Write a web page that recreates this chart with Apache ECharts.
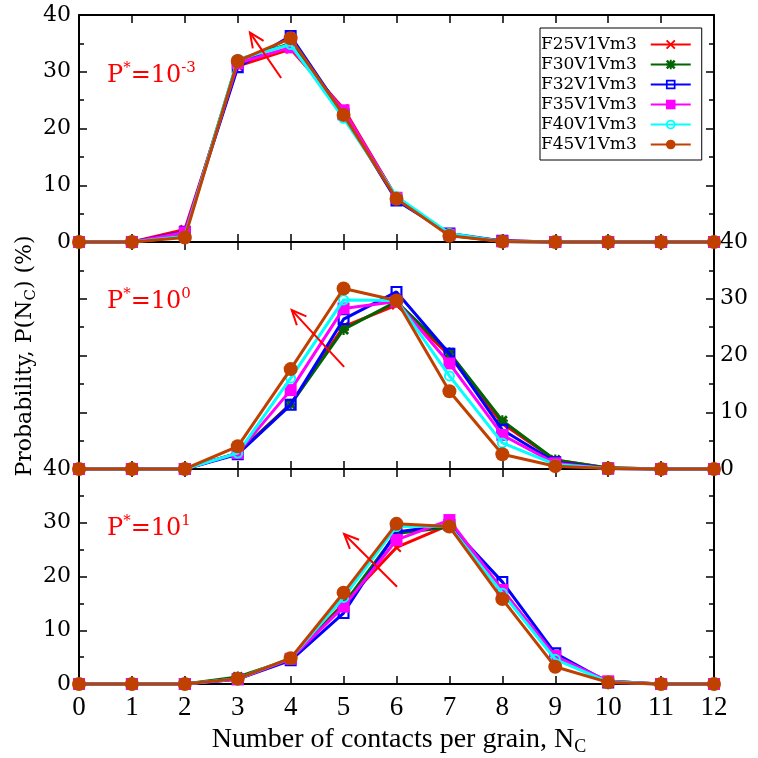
<!DOCTYPE html>
<html><head><meta charset="utf-8">
<script src="https://cdn.jsdelivr.net/npm/echarts@6/dist/echarts.min.js"></script>
<style>html,body{margin:0;padding:0;background:#fff}#c{width:758px;height:758px}</style>
</head><body><div id="c"></div>
<script>
// ---- data ----
const contacts = [0,1,2,3,4,5,6,7,8,9,10,11,12];
const xTicks = [0,1,2,3,4,5,6,7,8,9,10,11,12];
const yTicks = [0,10,20,30,40];
const seriesNames = ['F25V1Vm3','F30V1Vm3','F32V1Vm3','F35V1Vm3','F40V1Vm3','F45V1Vm3'];
const panelExponents = ['-3','0','1'];

// P* = 10^-3
const top_F25 = [0,0,2.2,31.0,34.0,23.5,7.8,1.3,0.2,0,0,0,0];
const top_F30 = [0,0,1.5,32.0,35.0,23.0,7.8,1.2,0.1,0,0,0,0];
const top_F32 = [0,0,1.8,30.8,36.3,22.5,7.3,1.5,0.2,0,0,0,0];
const top_F35 = [0,0,1.7,31.5,34.3,23.2,7.8,1.3,0.1,0,0,0,0];
const top_F40 = [0,0,1.0,32.2,34.8,21.8,8.0,1.5,0.1,0,0,0,0];
const top_F45 = [0,0,0.8,31.9,35.9,22.4,7.6,1.1,0.1,0,0,0,0];
// P* = 10^0
const mid_F25 = [0,0,0,2.8,11.5,25.1,28.9,20.0,8.0,1.6,0.2,0,0];
const mid_F30 = [0,0,0,2.8,11.4,24.6,29.5,20.5,8.5,1.6,0.2,0,0];
const mid_F32 = [0,0,0,2.6,11.3,26.4,31.2,20.3,6.9,1.2,0.1,0,0];
const mid_F35 = [0,0,0,2.8,13.9,28.3,29.5,18.6,6.0,1.0,0.1,0,0];
const mid_F40 = [0,0,0,2.8,16.0,29.8,29.7,16.4,4.6,0.8,0.1,0,0];
const mid_F45 = [0,0,0,4.0,17.6,31.8,29.7,13.7,2.6,0.5,0.1,0,0];
// P* = 10^1
const bot_F25 = [0,0,0,1.0,4.6,15.0,25.4,29.6,17.5,5.0,0.5,0,0];
const bot_F30 = [0,0,0,1.3,4.6,14.8,28.0,29.2,17.5,4.8,0.5,0,0];
const bot_F32 = [0,0,0,0.9,4.4,13.2,28.3,29.6,19.0,5.7,0.3,0,0];
const bot_F35 = [0,0,0,0.9,4.7,14.4,26.8,30.5,17.5,5.2,0.5,0,0];
const bot_F40 = [0,0,0,1.0,4.8,16.1,29.3,29.4,16.9,4.6,0.4,0,0];
const bot_F45 = [0,0,0,1.0,4.8,17.0,29.8,29.3,15.8,3.2,0.3,0,0];

// annotation arrows (data coordinates: tail -> head)
const arrowTail = [[3.82,28.9],[5.01,18.0],[6.01,18.1]];
const arrowHead = [[3.23,36.9],[4.02,28.0],[5.01,27.9]];

// ---- styling ----
const panels = [
  [top_F25,top_F30,top_F32,top_F35,top_F40,top_F45],
  [mid_F25,mid_F30,mid_F32,mid_F35,mid_F40,mid_F45],
  [bot_F25,bot_F30,bot_F32,bot_F35,bot_F40,bot_F45]
];
const colors = ['#ff0000','#006400','#0000ff','#ff00ff','#00ffff','#c04000'];
const symX = 'path://M0,1.4L1.4,0L5,3.6L8.6,0L10,1.4L6.4,5L10,8.6L8.6,10L5,6.4L1.4,10L0,8.6L3.6,5Z';
const symStar = 'path://M0,1.8L1.8,0L5,3.2L8.2,0L10,1.8L6.8,5L10,8.2L8.2,10L5,6.8L1.8,10L0,8.2L3.2,5Z M4,0H6V4H10V6H6V10H4V6H0V4H4Z';
const symOpenSq = 'path://M0,0H10V10H0Z M1.8,1.8V8.2H8.2V1.8Z';
const symOpenCirc = 'path://M5,0A5,5,0,1,1,5,10A5,5,0,1,1,5,0Z M5,1.8A3.2,3.2,0,1,0,5,8.2A3.2,3.2,0,1,0,5,1.8Z';
const symbols = [symX, symStar, symOpenSq, 'rect', symOpenCirc, 'circle'];
const symSizes = [10, 11, 12, 12, 11, 14];

const grids = [
  {left:79, right:44, top:15, height:227},
  {left:79, right:44, top:242, height:227},
  {left:79, right:44, top:469, height:215}
];

function xAx(g, pos, showLabel){
  return {type:'value', gridIndex:g, position:pos, min:0, max:12, interval:1,
    axisLine:{show:true, onZero:false, lineStyle:{color:'#000', width:2}},
    axisTick:{show:true, inside:true, length:8, lineStyle:{color:'#000', width:1.5}},
    axisLabel:{show:showLabel, margin:10, color:'#000', fontFamily:'Liberation Serif', fontSize:27,
      formatter: v => xTicks.includes(v) ? String(v) : ''},
    splitLine:{show:false}};
}
function yAx(g, pos, showLabel){
  return {type:'value', gridIndex:g, position:pos, min:0, max:40, interval:10,
    axisLine:{show:true, onZero:false, lineStyle:{color:'#000', width:2}},
    axisTick:{show:true, inside:true, length:8, lineStyle:{color:'#000', width:1.5}},
    minorTick:{show:true, splitNumber:2, length:5, lineStyle:{color:'#000', width:1.5}},
    axisLabel:{show:showLabel, margin:pos==='left'?8:6, color:'#000', fontFamily:'DejaVu Serif', fontSize:22,
      formatter: v => yTicks.includes(v) ? String(v) : ''},
    splitLine:{show:false}, minorSplitLine:{show:false}};
}

const xAxes = [], yAxes = [];
for (let g=0; g<3; g++){
  xAxes.push(xAx(g,'bottom', g===2));
  xAxes.push(xAx(g,'top', false));
  yAxes.push(yAx(g,'left', g!==1));
  yAxes.push(yAx(g,'right', g===1));
}

const series = [];
panels.forEach((pd, g) => {
  pd.forEach((vals, k) => {
    series.push({
      name: seriesNames[k], type:'line', xAxisIndex:2*g, yAxisIndex:2*g,
      data: contacts.map((c,i)=>[c, vals[i]]),
      symbol: symbols[k], symbolSize: symSizes[k], showSymbol:true,
      lineStyle:{color:colors[k], width:3},
      itemStyle:{color:colors[k]},
      z: 2 + k, clip:false
    });
  });
});

const chart = echarts.init(document.getElementById('c'), null, {renderer:'canvas'});
chart.setOption({
  animation:false,
  backgroundColor:'#fff',
  grid: grids,
  xAxis: xAxes,
  yAxis: yAxes,
  legend: {left:540, top:28, orient:'vertical', align:'right', itemWidth:40, itemHeight:12, itemGap:3,
    padding:[8,10,7,1], borderColor:'#000', borderWidth:1, backgroundColor:'#fff', selectedMode:false,
    textStyle:{fontFamily:'DejaVu Serif', fontSize:17, color:'#000', lineHeight:16, padding:[0,9,0,0]},
    data: seriesNames, z:20},
  series: series
});

const gfx = [];
// panel labels
const labelY = [76, 302, 529];
panelExponents.forEach((e, i) => {
  gfx.push({type:'text', x:107, y:labelY[i], z:50,
    style:{text:'{a|P}{s|*}{a|=10}{s|'+e+'}', fill:'#ff0000', align:'left', verticalAlign:'middle',
      rich:{a:{fontFamily:'DejaVu Serif', fontSize:24, fill:'#ff0000', lineHeight:30},
            s:{fontFamily:'DejaVu Serif', fontSize:15, fill:'#ff0000', verticalAlign:'top', lineHeight:15}}}});
});
// axis titles
gfx.push({type:'text', x:25, y:356, rotation:Math.PI/2, z:50,
  style:{text:'{a|Probability, P(N}{b|C}{a|) (%)}', fill:'#000', align:'center', verticalAlign:'middle',
    rich:{a:{fontFamily:'DejaVu Serif', fontSize:22, fill:'#000', lineHeight:28},
          b:{fontFamily:'DejaVu Serif', fontSize:15, fill:'#000', verticalAlign:'bottom', lineHeight:15}}}});
gfx.push({type:'text', x:399, y:740, z:50,
  style:{text:'{a|Number of contacts per grain, N}{b|C}', fill:'#000', align:'center', verticalAlign:'middle',
    rich:{a:{fontFamily:'Liberation Serif', fontSize:28, fill:'#000', lineHeight:32},
          b:{fontFamily:'Liberation Serif', fontSize:18, fill:'#000', verticalAlign:'bottom', lineHeight:18}}}});
// arrows
arrowTail.forEach((t, i) => {
  const p0 = chart.convertToPixel({xAxisIndex:2*i, yAxisIndex:2*i}, t);
  const p1 = chart.convertToPixel({xAxisIndex:2*i, yAxisIndex:2*i}, arrowHead[i]);
  const ang = Math.atan2(p1[1]-p0[1], p1[0]-p0[0]);
  const L = 16, A = 0.42;
  const h1 = [p1[0]-L*Math.cos(ang-A), p1[1]-L*Math.sin(ang-A)];
  const h2 = [p1[0]-L*Math.cos(ang+A), p1[1]-L*Math.sin(ang+A)];
  gfx.push({type:'line', z:40, shape:{x1:p0[0], y1:p0[1], x2:p1[0], y2:p1[1]}, style:{stroke:'#ff0000', lineWidth:2}});
  gfx.push({type:'polyline', z:40, shape:{points:[h1, p1, h2]}, style:{stroke:'#ff0000', fill:null, lineWidth:2}});
});
chart.setOption({graphic: gfx});
</script>
</body></html>
